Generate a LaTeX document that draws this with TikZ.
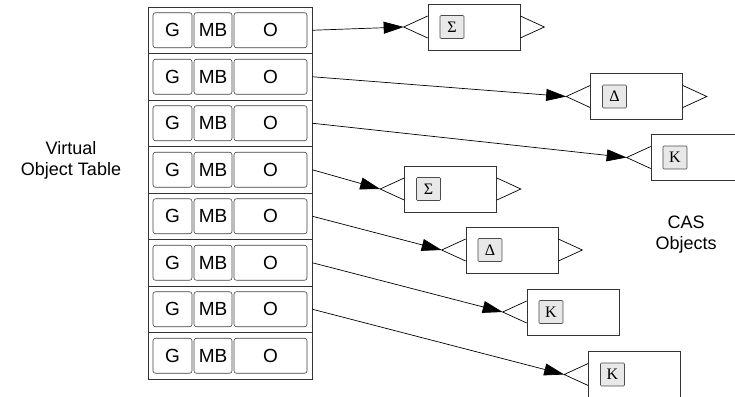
\documentclass[tikz,border=0pt]{standalone}
\usepackage{fontspec}
\usepackage{tikz}
\usetikzlibrary{arrows.meta,positioning}
\newfontfamily\helv{Liberation Sans}
\newfontfamily\tms{Liberation Serif}

\tikzset{
  rowbox/.style={draw=black!80, line width=0.7pt, minimum width=164pt, minimum height=46.5pt, inner sep=0pt},
  cell/.style={draw=black!75, line width=0.6pt, rounded corners=2.5pt, minimum height=35pt, inner sep=0pt, font=\helv\fontsize{19}{22}\selectfont},
  casbox/.style={draw=black!80, line width=0.7pt, minimum width=92pt, minimum height=46pt, inner sep=0pt},
  tag/.style={draw=black!70, line width=0.6pt, fill=black!9, rounded corners=1pt, minimum width=24pt, minimum height=23pt, inner sep=0pt, font=\tms\fontsize{16}{18}\selectfont},
  notch/.style={line width=0.7pt},
  link/.style={-{Triangle[length=20pt,width=12pt]}, line width=0.7pt},
  caption/.style={align=center, font=\helv\fontsize{18}{21}\selectfont}
}

\begin{document}
\begin{tikzpicture}[x=1pt, y=-1pt]
            \useasboundingbox (0,0) rectangle (735,396);
            \clip (0,0) rectangle (735,396);
            % virtual object table
            \foreach \i in {1,...,8} {
                \pgfmathsetmacro\yy{30.25+46.5*(\i-1)}
                \node [rowbox] (row\i) at (230,\yy) {};
                \node [cell, minimum width=39pt] (g\i) at (172.5,\yy) {G};
                \node [cell, minimum width=38pt] (mb\i) at (213,\yy) {MB};
                \node [cell, minimum width=73pt] (o\i) at (270.5,\yy) {O};
            }
            \node [caption] (vot) at (71,160.5) {Virtual\\Object Table};
            % CAS objects
            \foreach \n/\x/\y/\l/\r in {1/474/27/Σ/1, 2/636.5/96.5/Δ/1, 3/697/157.5/Κ/0,
                                        4/450.5/189/Σ/1, 5/512/250/Δ/1, 6/573/312/Κ/0, 7/634.5/374.5/Κ/0} {
                \node [casbox] (obj\n) at (\x,\y) {};
                \node [tag, right=12pt of obj\n.west] (tag\n) {\l};
                \coordinate (tip\n) at ([xshift=-24pt]obj\n.west);
                \draw [notch] ([yshift=11pt]obj\n.west) -- (tip\n) -- ([yshift=-11pt]obj\n.west);
                \ifnum\r=1
                    \draw [notch] ([yshift=11pt]obj\n.east) -- ([xshift=24pt]obj\n.east) -- ([yshift=-11pt]obj\n.east);
                \fi
            }
            \node [caption] (cas) at (686,235) {CAS\\Objects};
            % references
            \foreach \i in {1,...,7}
                \draw [link] (row\i.east) -- (tip\i);
        \end{tikzpicture}
\end{document}
